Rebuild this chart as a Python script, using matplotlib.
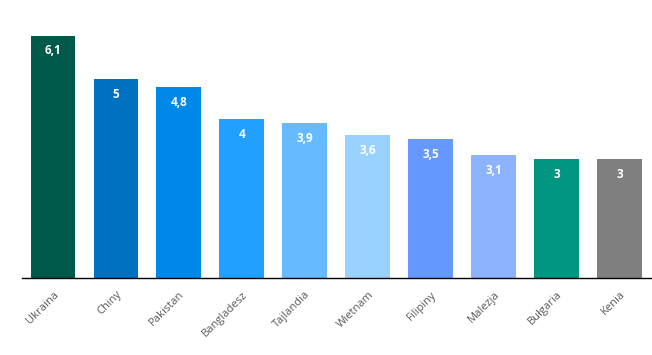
import matplotlib.pyplot as plt

countries = ['Ukraina', 'Chiny', 'Pakistan', 'Bangladesz', 'Tajlandia',
             'Wietnam', 'Filipiny', 'Malezja', 'Bułgaria', 'Kenia']
values = [6.1, 5, 4.8, 4, 3.9, 3.6, 3.5, 3.1, 3, 3]
colors = ['#005a4b', '#0070c0', '#0088e8', '#22a0ff', '#66baff',
          '#99d2ff', '#6699ff', '#8db3ff', '#009681', '#7f7f7f']

plt.rcParams['font.family'] = ['Open Sans', 'DejaVu Sans']

fig = plt.figure(figsize=(6.52, 3.55), dpi=100)
ax = fig.add_axes([0.033, 0.217, 0.966, 0.783])

x = range(len(countries))
bars = ax.bar(x, values, width=0.714, color=colors)

for b, v in zip(bars, values):
    label = ('%g' % v).replace('.', ',')
    ax.text(b.get_x() + b.get_width() / 2, v - 0.22, label,
            ha='center', va='top', color='white', fontsize=8.5, fontweight='bold')

ax.set_xlim(-0.5, 9.5)
ax.set_ylim(0, 7)
ax.set_xticks(list(x))
ax.set_xticklabels(countries, rotation=45, ha='right', rotation_mode='anchor',
                   fontsize=8, color='#595959')
ax.tick_params(axis='x', length=0, pad=8)
ax.set_yticks([])
for s in ['top', 'right', 'left']:
    ax.spines[s].set_visible(False)
ax.spines['bottom'].set_color('black')
ax.spines['bottom'].set_linewidth(1)

fig.savefig('out.png', dpi=100)
